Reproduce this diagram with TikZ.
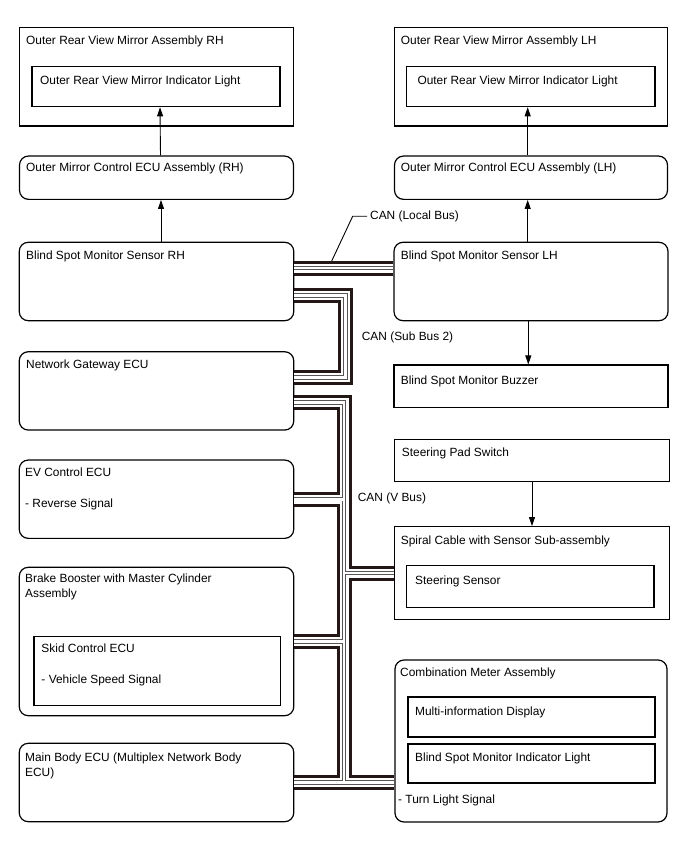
\documentclass[tikz,border=0pt]{standalone}
\usepackage{fontspec}
\setmainfont{Liberation Sans}
\usetikzlibrary{arrows.meta}

\definecolor{buscol}{RGB}{35,24,21}
\definecolor{wirecol}{RGB}{90,85,85}

\begin{document}
\begin{tikzpicture}[
    x=1pt, y=-1pt,
    box/.style={draw, line width=1.2pt, inner sep=0pt},
    ecu/.style={box, rounded corners=9pt},
    txt/.style={anchor=base west, inner sep=0pt, align=left},
    sig/.style={->, line width=0.9pt},
    >={Triangle[length=9pt, width=6pt]},
    font=\fontsize{11.9}{15}\selectfont
]
    \useasboundingbox (0,0) rectangle (688,852);

    % 左列节点
    \node[box, minimum width=274, minimum height=98.7] (mirRH) at (156.5,76.7) {};   % 后视镜总成 RH
    \node[box, minimum width=248, minimum height=40] (mirRHin) at (156,86.7) {};     % 指示灯
    \node[ecu, minimum width=274, minimum height=43.3] (ecuRH) at (156.5,177.7) {};
    \node[ecu, minimum width=274.5, minimum height=78.4] (sensRH) at (156.5,281.5) {};
    \node[ecu, minimum width=274.5, minimum height=78.3] (gw) at (156.5,390.9) {};
    \node[ecu, minimum width=274.5, minimum height=78.3] (ev) at (156.5,499.2) {};
    \node[ecu, minimum width=274.5, minimum height=148.4] (brake) at (156.5,641.5) {};
    \node[box, minimum width=246.7, minimum height=69] (skid) at (157.4,671.2) {};
    \node[ecu, minimum width=274.5, minimum height=78.4] (mainb) at (156.5,782.5) {};

    % 右列节点
    \node[box, minimum width=273, minimum height=98.7] (mirLH) at (531,76.7) {};
    \node[box, minimum width=248.3, minimum height=40.2] (mirLHin) at (530.9,86.6) {};
    \node[ecu, minimum width=273, minimum height=43.3] (ecuLH) at (531,177.7) {};
    \node[ecu, minimum width=274, minimum height=78.4] (sensLH) at (531,281.5) {};
    \node[box, minimum width=274, minimum height=42.3] (buzz) at (531,386.2) {};
    \node[box, minimum width=274.3, minimum height=42.4] (pad) at (532,460.5) {};
    \node[box, minimum width=274.6, minimum height=92.6] (spiral) at (532,573) {};
    \node[box, minimum width=247.3, minimum height=42] (steer) at (530.4,586.7) {};
    \node[ecu, minimum width=272, minimum height=162] (comb) at (531,741) {};
    \node[box, minimum width=247, minimum height=40] (mid) at (531.5,717) {};
    \node[box, minimum width=247, minimum height=39] (bsmL) at (531.5,763.5) {};

    % 文字
    \node[txt] (mirRHt) at (26,44.5) {Outer Rear View Mirror Assembly RH};
    \node[txt] (mirRHint) at (40,84.5) {Outer Rear View Mirror Indicator Light};
    \node[txt] (ecuRHt) at (26,171) {Outer Mirror Control ECU Assembly (RH)};
    \node[txt] (sensRHt) at (26,259.5) {Blind Spot Monitor Sensor RH};
    \node[txt] (gwt) at (26,368.5) {Network Gateway ECU};
    \node[txt] (evt) at (25,476) {EV Control ECU};
    \node[txt] (evs) at (25,507.5) {- Reverse Signal};
    \node[txt] (braket) at (25,597.5) {Brake Booster with Master Cylinder\\Assembly};   % 基线 = 末行
    \node[txt] (skidt) at (41.3,652.5) {Skid Control ECU};
    \node[txt] (skids) at (41.3,683.5) {- Vehicle Speed Signal};
    \node[txt] (mainbt) at (25,776.5) {Main Body ECU (Multiplex Network Body\\ECU)};

    \node[txt] (mirLHt) at (400.7,44.5) {Outer Rear View Mirror Assembly LH};
    \node[txt] (mirLHint) at (417.3,84.5) {Outer Rear View Mirror Indicator Light};
    \node[txt] (ecuLHt) at (400.7,171) {Outer Mirror Control ECU Assembly (LH)};
    \node[txt] (sensLHt) at (400.7,259.5) {Blind Spot Monitor Sensor LH};
    \node[txt] (buzzt) at (400.7,384.5) {Blind Spot Monitor Buzzer};
    \node[txt] (padt) at (401.7,456.5) {Steering Pad Switch};
    \node[txt] (spiralt) at (400.7,544.3) {Spiral Cable with Sensor Sub-assembly};
    \node[txt] (steert) at (415,584.3) {Steering Sensor};
    \node[txt] (combt) at (400,676) {Combination Meter Assembly};
    \node[txt] (midt) at (415,715) {Multi-information Display};
    \node[txt] (bsmLt) at (415,761.5) {Blind Spot Monitor Indicator Light};
    \node[txt] (turn) at (398,803.5) {- Turn Light Signal};

    % 总线标签
    \node[txt] (canLocal) at (370,219.3) {CAN (Local Bus)};
    \node[txt] (canSub) at (361.7,340) {CAN (Sub Bus 2)};
    \node[txt] (canV) at (357.7,501) {CAN (V Bus)};

    \coordinate (lbtap) at (331.7,261);
    \coordinate (sub2) at (345.5,340);
    \coordinate (vbus) at (344,782);

    % 1. 信号线
    \draw[sig] ([xshift=4pt]ecuRH.north) -- ([xshift=4pt]mirRHin.south);
    \draw[sig] ([xshift=4.5pt]sensRH.north) -- ([xshift=4.5pt]ecuRH.south);
    \draw[sig] ([xshift=-3.3pt]ecuLH.north) -- ([xshift=-3.2pt]mirLHin.south);
    \draw[sig] ([xshift=-3.3pt]sensLH.north) -- ([xshift=-3.3pt]ecuLH.south);
    \draw[sig] ([xshift=-2.7pt]sensLH.south) -- ([xshift=-2.7pt]buzz.north);
    \draw[sig] (pad.south) -- (spiral.north);

    % 2. CAN 总线 (分层绘制)
    \foreach \w/\c in {15/buscol, 9/white, 4.4/wirecol, 2.6/white}{
        \draw[line width=\w pt, draw=\c] ([yshift=13.5pt]sensRH.east) -- ([yshift=13.5pt]sensLH.west);
        \draw[line width=\w pt, draw=\c] ([yshift=-14pt]sensRH.east) -| (sub2) |- ([yshift=13.3pt]gw.east);
        \draw[line width=\w pt, draw=\c] ([yshift=-11.7pt]gw.east) -| (vbus);
        \draw[line width=\w pt, draw=\c] (ev.east) -- (ev.east -| vbus);
        \draw[line width=\w pt, draw=\c] (spiral.west) -- (spiral.west -| vbus);
        \draw[line width=\w pt, draw=\c] (brake.east) -- (brake.east -| vbus);
        \draw[line width=\w pt, draw=\c] (mainb.east) -- (comb.west |- mainb.east);
    }

    % 3. 引出线
    \draw[line width=0.9pt] ([xshift=-3pt]canLocal.west) -- ++(-14.3,0) -- (lbtap);

\end{tikzpicture}
\end{document}
